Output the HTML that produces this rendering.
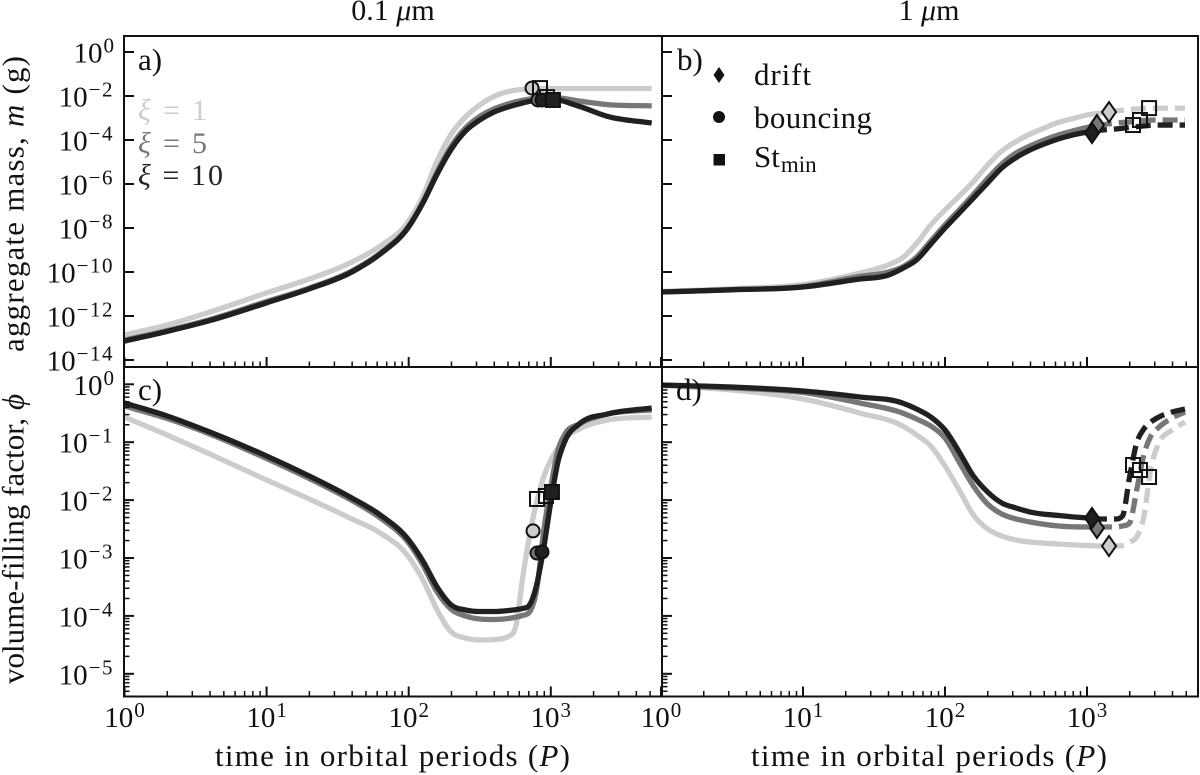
<!DOCTYPE html>
<html lang="en">
<head>
<meta charset="utf-8">
<title>Aggregate mass and volume-filling factor over time</title>
<style>
  html, body { margin: 0; padding: 0; background: #fff; }
  svg { display: block; }
  text { font-family: "Liberation Serif", "DejaVu Serif", serif; fill: #111; }
</style>
</head>
<body>
<svg id="chart" xmlns="http://www.w3.org/2000/svg" width="1200" height="775" viewBox="0 0 1200 775">
  <rect x="0" y="0" width="1200" height="775" fill="#fff"/>
  <g id="lines" fill="none" stroke-width="5.3"></g>
  <g id="markers"></g>
  <g id="ticks" stroke="#111" fill="none"></g>
  <g id="ticklabels"></g>
  <path d="M124 36H1198V696.5H124Z M124 367H1198 M662 36V696.5" fill="none" stroke="#111" stroke-width="2"/>

  <text x="393" y="20" font-size="30" text-anchor="middle">0.1 <tspan font-style="italic">μ</tspan>m</text>
  <text x="929" y="20" font-size="30" text-anchor="middle">1 <tspan font-style="italic">μ</tspan>m</text>

  <text transform="translate(23.5,352) rotate(-90)" font-size="31" textLength="296" lengthAdjust="spacing">aggregate mass, <tspan font-style="italic">m</tspan> (g)</text>
  <text transform="translate(23.5,684) rotate(-90)" font-size="31" textLength="290" lengthAdjust="spacing">volume-filling factor, <tspan font-style="italic">ϕ</tspan></text>
  <text x="215" y="766" font-size="31" textLength="355" lengthAdjust="spacing">time in orbital periods (<tspan font-style="italic">P</tspan>)</text>
  <text x="751" y="766" font-size="31" textLength="356" lengthAdjust="spacing">time in orbital periods (<tspan font-style="italic">P</tspan>)</text>

  <text x="138" y="70" font-size="31">a)</text>
  <text x="677" y="70" font-size="31">b)</text>
  <text x="138" y="400" font-size="31">c)</text>
  <text x="676" y="400" font-size="31">d)</text>

  <g font-size="30">
    <text x="138" y="120" style="fill:#ccc" textLength="69" lengthAdjust="spacing"><tspan font-style="italic">ξ</tspan> = 1</text>
    <text x="138" y="153" style="fill:#777" textLength="69" lengthAdjust="spacing"><tspan font-style="italic">ξ</tspan> = 5</text>
    <text x="138" y="185" style="fill:#222" textLength="85" lengthAdjust="spacing"><tspan font-style="italic">ξ</tspan> = 10</text>
  </g>

  <g font-size="31">
    <path d="M719 67L724.5 75L719 83L713.5 75Z" fill="#111"/>
    <circle cx="719" cy="117" r="6" fill="#111"/>
    <rect x="713.5" y="154" width="11.5" height="11.5" fill="#111"/>
    <text x="754" y="85" textLength="57" lengthAdjust="spacing">drift</text>
    <text x="754" y="128" textLength="118" lengthAdjust="spacing">bouncing</text>
    <text x="754" y="167">St<tspan font-size="23" dy="5" dx="1">min</tspan></text>
  </g>
</svg>

<script>
// ---- Tick data (base-10 exponents) ----
const xTickExponents = [0, 1, 2, 3];
const xMinorMultiples = [2, 3, 4, 5, 6, 7, 8, 9];
const massTickExponents = [0, -2, -4, -6, -8, -10, -12, -14];
const phiTickExponents = [0, -1, -2, -3, -4, -5];

// ---- Panel a: log10(time / P) and log10(mass / g) ----
const timeA = [0, 0.3, 0.6, 1, 1.3, 1.6, 1.8, 2, 2.1, 2.2, 2.3, 2.4, 2.5, 2.6, 2.7, 2.8, 2.9, 3, 3.2, 3.4, 3.71];
const massA_xi1 = [-12.86, -12.41, -11.82, -10.95, -10.32, -9.55, -8.82, -7.68, -6.55, -4.95, -3.73, -2.95, -2.41, -2.02, -1.80, -1.70, -1.68, -1.66, -1.66, -1.66, -1.66];
const massA_xi5 = [-13.09, -12.66, -12.16, -11.34, -10.73, -9.95, -9.14, -7.91, -6.82, -5.45, -4.27, -3.45, -2.93, -2.59, -2.36, -2.20, -2.09, -2.05, -2.23, -2.39, -2.45];
const massA_xi10 = [-13.14, -12.70, -12.21, -11.40, -10.77, -10.00, -9.18, -7.95, -6.86, -5.55, -4.41, -3.59, -3.09, -2.73, -2.50, -2.32, -2.18, -2.14, -2.47, -2.93, -3.23];
const bounceTimeA = [2.868, 2.91, 2.938];
const bounceMassA = [-1.64, -2.18, -2.18];
const stminTimeA = [2.924, 2.973, 3.015];
const stminMassA = [-1.64, -2.05, -2.18];

// ---- Panel b ----
const timeB = [0, 0.5, 1, 1.4, 1.6, 1.7, 1.8, 1.9, 2, 2.1, 2.2, 2.3, 2.4, 2.5, 2.6, 2.7, 2.8, 2.9, 3, 3.1, 3.2, 3.3, 3.4, 3.5, 3.69];
const massB_xi1 = [-10.89, -10.76, -10.57, -10.05, -9.68, -9.36, -8.70, -7.86, -7.18, -6.55, -5.89, -5.14, -4.50, -4.07, -3.73, -3.45, -3.20, -3.03, -2.86, -2.77, -2.68, -2.61, -2.57, -2.55, -2.55];
const massB_xi5 = [-10.91, -10.80, -10.66, -10.20, -10.00, -9.77, -9.32, -8.59, -7.86, -7.18, -6.48, -5.75, -5.09, -4.59, -4.27, -4.00, -3.77, -3.59, -3.43, -3.32, -3.23, -3.18, -3.11, -3.09, -3.09];
const massB_xi10 = [-10.91, -10.81, -10.68, -10.32, -10.14, -9.84, -9.45, -8.73, -8.00, -7.32, -6.64, -5.95, -5.27, -4.80, -4.45, -4.18, -3.95, -3.77, -3.64, -3.55, -3.50, -3.43, -3.36, -3.32, -3.32];
const driftTimeB = [3.155, 3.07, 3.035];
const driftMassB = [-2.73, -3.32, -3.68];
const stminTimeB = [3.437, 3.373, 3.324];
const stminMassB = [-2.55, -3.09, -3.32];

// ---- Panel c: log10(phi) ----
const timeC = [0, 0.3, 0.6, 1, 1.3, 1.6, 1.8, 2, 2.1, 2.2, 2.3, 2.4, 2.5, 2.6, 2.7, 2.76, 2.8, 2.85, 2.9, 2.95, 3, 3.05, 3.1, 3.2, 3.4, 3.71];
const phiC_xi1 = [-0.565, -0.876, -1.204, -1.653, -1.981, -2.326, -2.568, -2.983, -3.380, -3.898, -4.278, -4.382, -4.416, -4.408, -4.356, -4.105, -3.380, -2.620, -2.033, -1.601, -1.307, -1.100, -0.927, -0.772, -0.617, -0.565];
const phiC_xi5 = [-0.375, -0.591, -0.858, -1.282, -1.627, -2.007, -2.309, -2.741, -3.121, -3.587, -3.889, -4.002, -4.054, -4.062, -4.045, -4.019, -3.993, -3.933, -3.553, -2.534, -1.774, -1.140, -0.858, -0.686, -0.513, -0.444];
const phiC_xi10 = [-0.323, -0.547, -0.824, -1.238, -1.584, -1.964, -2.257, -2.689, -3.052, -3.501, -3.812, -3.898, -3.924, -3.924, -3.907, -3.889, -3.872, -3.812, -3.466, -2.827, -2.033, -1.342, -0.978, -0.686, -0.513, -0.409];
const bounceTimeC = [2.875, 2.903, 2.938];
const bouncePhiC = [-2.532, -2.914, -2.896];
const stminTimeC = [2.903, 2.966, 3.008];
const stminPhiC = [-1.981, -1.929, -1.860];

// ---- Panel d ----
const timeD = [0, 0.5, 1, 1.4, 1.7, 1.8, 1.9, 2, 2.1, 2.2, 2.3, 2.4, 2.5, 2.6, 2.8, 3, 3.1, 3.2, 3.25, 3.3, 3.35, 3.4, 3.45, 3.5, 3.6, 3.69];
const phiD_xi1 = [-0.021, -0.098, -0.254, -0.496, -0.720, -0.876, -1.066, -1.411, -1.826, -2.257, -2.499, -2.620, -2.689, -2.724, -2.758, -2.784, -2.793, -2.793, -2.784, -2.724, -2.637, -2.292, -1.446, -1.048, -0.789, -0.651];
const phiD_xi5 = [-0.012, -0.064, -0.142, -0.323, -0.496, -0.599, -0.720, -0.927, -1.342, -1.756, -2.067, -2.240, -2.326, -2.378, -2.447, -2.464, -2.464, -2.464, -2.447, -2.396, -1.826, -1.221, -0.893, -0.755, -0.582, -0.478];
const phiD_xi10 = [-0.012, -0.047, -0.116, -0.219, -0.323, -0.427, -0.565, -0.789, -1.169, -1.584, -1.860, -2.050, -2.136, -2.206, -2.266, -2.309, -2.326, -2.326, -2.275, -1.601, -1.014, -0.772, -0.651, -0.573, -0.478, -0.427];
const driftTimeD = [3.155, 3.07, 3.035];
const driftPhiD = [-2.793, -2.482, -2.309];
const stminTimeD = [3.437, 3.373, 3.324];
const stminPhiD = [-1.601, -1.480, -1.394];

const xiNames = ['xi1', 'xi5', 'xi10'];
const xiColors = ['#cccccc', '#777777', '#202020'];

// ---- Axis functions ----
const xLeft = v => 124.5 + 142.1 * v;
const xRight = v => 661 + 142 * v;
const yMass = v => 52 - 22 * v;
const yPhi = v => 384.3 - 57.9 * v;

const NS = 'http://www.w3.org/2000/svg';
function make(parent, tag, attrs) {
  const el = document.createElementNS(NS, tag);
  for (const k in attrs) el.setAttribute(k, attrs[k]);
  parent.appendChild(el);
  return el;
}
function curvePath(pts) {
  const n = pts.length;
  if (n < 2) return '';
  const m = new Array(n);
  for (let i = 1; i < n - 1; i++) {
    const h0 = pts[i][0] - pts[i - 1][0], h1 = pts[i + 1][0] - pts[i][0];
    const s0 = (pts[i][1] - pts[i - 1][1]) / h0, s1 = (pts[i + 1][1] - pts[i][1]) / h1;
    if (s0 * s1 <= 0) { m[i] = 0; continue; }
    const p = (s0 * h1 + s1 * h0) / (h0 + h1);
    const limit = 3 * Math.min(Math.abs(s0), Math.abs(s1));
    m[i] = Math.sign(p) * Math.min(Math.abs(p), limit);
  }
  const e0 = (pts[1][1] - pts[0][1]) / (pts[1][0] - pts[0][0]);
  const e1 = (pts[n - 1][1] - pts[n - 2][1]) / (pts[n - 1][0] - pts[n - 2][0]);
  m[0] = e0;
  m[n - 1] = e1;
  let d = 'M' + pts[0][0].toFixed(2) + ' ' + pts[0][1].toFixed(2);
  for (let i = 0; i < n - 1; i++) {
    const h = (pts[i + 1][0] - pts[i][0]) / 3;
    d += 'C' + (pts[i][0] + h).toFixed(2) + ' ' + (pts[i][1] + m[i] * h).toFixed(2) + ' ' +
         (pts[i + 1][0] - h).toFixed(2) + ' ' + (pts[i + 1][1] - m[i + 1] * h).toFixed(2) + ' ' +
         pts[i + 1][0].toFixed(2) + ' ' + pts[i + 1][1].toFixed(2);
  }
  return d;
}

const linesG = document.getElementById('lines');
const markersG = document.getElementById('markers');
const ticksG = document.getElementById('ticks');
const labelsG = document.getElementById('ticklabels');

// ---- Curves ----
function drawSeries(panel, times, values, i, xFn, yFn, splitT) {
  const toPt = (t, v) => [xFn(t), yFn(v)];
  if (splitT === undefined) {
    const whole = make(linesG, 'path', { d: curvePath(times.map((t, k) => toPt(t, values[k]))), stroke: xiColors[i] });
    
    
    return;
  }
  let k = 0;
  while (k < times.length - 1 && times[k + 1] < splitT) k++;
  const f = (splitT - times[k]) / (times[k + 1] - times[k]);
  const splitV = values[k] + f * (values[k + 1] - values[k]);
  const before = [], after = [];
  times.forEach((t, j) => { if (t < splitT) before.push(toPt(t, values[j])); else after.push(toPt(t, values[j])); });
  before.push(toPt(splitT, splitV));
  after.unshift(toPt(splitT, splitV));
  const solid = make(linesG, 'path', { d: curvePath(before), stroke: xiColors[i] });
  
  
  const dashed = make(linesG, 'path', { d: curvePath(after), stroke: xiColors[i], 'stroke-dasharray': '15 7' });
  
  
}
[massA_xi1, massA_xi5, massA_xi10].forEach((s, i) => drawSeries('a', timeA, s, i, xLeft, yMass));
[massB_xi1, massB_xi5, massB_xi10].forEach((s, i) => drawSeries('b', timeB, s, i, xRight, yMass, driftTimeB[i]));
[phiC_xi1, phiC_xi5, phiC_xi10].forEach((s, i) => drawSeries('c', timeC, s, i, xLeft, yPhi));
[phiD_xi1, phiD_xi5, phiD_xi10].forEach((s, i) => drawSeries('d', timeD, s, i, xRight, yPhi, driftTimeD[i]));

// ---- Markers ----
const markerStyle = { stroke: '#111', 'stroke-width': 2 };
function drawCircle(panel, i, x, y) {
  const el = make(markersG, 'circle', Object.assign({ cx: x, cy: y, r: 6.5, fill: xiColors[i] }, markerStyle));
  
  
}
function drawSquare(panel, i, x, y, fill) {
  const el = make(markersG, 'rect', Object.assign({ x: x - 7, y: y - 7, width: 14, height: 14, fill: fill }, markerStyle));
  
  
}
function drawDiamond(panel, i, x, y) {
  const d = 'M' + x + ' ' + (y - 10) + 'L' + (x + 7) + ' ' + y + 'L' + x + ' ' + (y + 10) + 'L' + (x - 7) + ' ' + y + 'Z';
  const el = make(markersG, 'path', Object.assign({ d: d, fill: xiColors[i] }, markerStyle));
  
  
}
[0, 1, 2].forEach(i => {
  drawCircle('a', i, xLeft(bounceTimeA[i]), yMass(bounceMassA[i]));
  drawSquare('a', i, xLeft(stminTimeA[i]), yMass(stminMassA[i]), i === 2 ? xiColors[2] : 'none');
  drawDiamond('b', i, xRight(driftTimeB[i]), yMass(driftMassB[i]));
  drawSquare('b', i, xRight(stminTimeB[i]), yMass(stminMassB[i]), 'none');
  drawCircle('c', i, xLeft(bounceTimeC[i]), yPhi(bouncePhiC[i]));
  drawSquare('c', i, xLeft(stminTimeC[i]), yPhi(stminPhiC[i]), i === 2 ? xiColors[2] : 'none');
  drawDiamond('d', i, xRight(driftTimeD[i]), yPhi(driftPhiD[i]));
  drawSquare('d', i, xRight(stminTimeD[i]), yPhi(stminPhiD[i]), 'none');
});

// ---- Ticks ----
function tickLine(x1, y1, x2, y2, width, name) {
  const el = make(ticksG, 'line', { x1: x1, y1: y1, x2: x2, y2: y2, 'stroke-width': width });
  
  
}
const xLimitMax = 3.775;
function drawXTicks(xFn, axisY, prefix) {
  xTickExponents.forEach(e => {
    tickLine(xFn(e), axisY, xFn(e), axisY - 10, 2, prefix + '-major-tick');
    xMinorMultiples.forEach(mult => {
      const v = e + Math.log10(mult);
      if (v < xLimitMax) tickLine(xFn(v), axisY, xFn(v), axisY - 5.5, 1.5, prefix + '-minor-tick');
    });
  });
}
drawXTicks(xLeft, 367, 'panel-a-x');
drawXTicks(xRight, 367, 'panel-b-x');
drawXTicks(xLeft, 696.5, 'panel-c-x');
drawXTicks(xRight, 696.5, 'panel-d-x');

function drawYTicks(x0, yFn, exps, minors, prefix) {
  exps.forEach(e => {
    tickLine(x0, yFn(e), x0 + 10, yFn(e), 2, prefix + '-major-tick');
    if (minors) xMinorMultiples.forEach(mult => {
      const v = e - 1 + Math.log10(mult);
      if (yFn(v) < 696) tickLine(x0, yFn(v), x0 + 5.5, yFn(v), 1.5, prefix + '-minor-tick');
    });
  });
}
drawYTicks(124, yMass, massTickExponents, false, 'panel-a-y');
drawYTicks(662, yMass, massTickExponents, false, 'panel-b-y');
drawYTicks(124, yPhi, phiTickExponents, true, 'panel-c-y');
drawYTicks(662, yPhi, phiTickExponents, true, 'panel-d-y');

// ---- Tick labels ----
function powerLabel(x, y, anchor, exp, name) {
  const t = make(labelsG, 'text', { x: x, y: y, 'text-anchor': anchor, 'font-size': 29 });
  
  
  const base = make(t, 'tspan', {});
  base.textContent = '10';
  const sup = make(t, 'tspan', { dy: -10, dx: 1, 'font-size': 21 });
  if (exp < 0) sup.setAttribute('letter-spacing', '1.5');
  sup.textContent = exp < 0 ? '\u2212' + Math.abs(exp) : String(exp);
}
massTickExponents.forEach(e => powerLabel(114, yMass(e) + 10.5, 'end', e, 'y-tick-label-mass'));
phiTickExponents.forEach(e => powerLabel(114, yPhi(e) + 10.5, 'end', e, 'y-tick-label-phi'));
xTickExponents.forEach(e => powerLabel(xLeft(e), 727, 'middle', e, 'x-tick-label-left'));
xTickExponents.forEach(e => powerLabel(xRight(e), 727, 'middle', e, 'x-tick-label-right'));
</script>
</body>
</html>
